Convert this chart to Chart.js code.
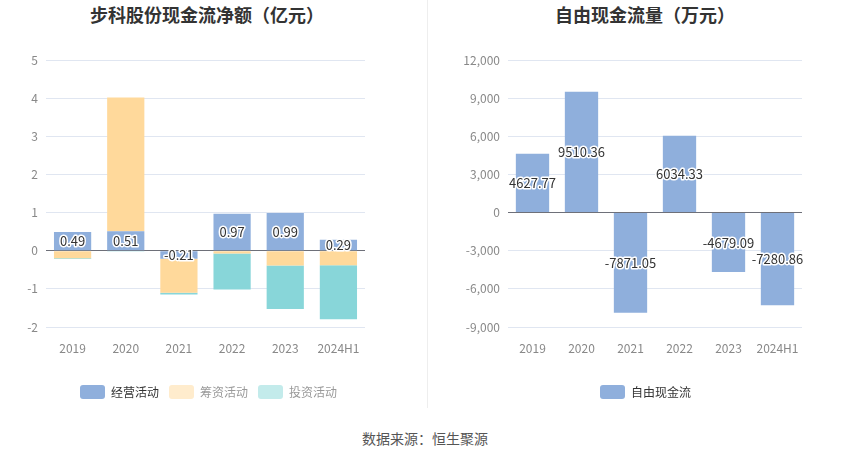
<!DOCTYPE html>
<html>
<head>
<meta charset="utf-8">
<script src="https://cdn.jsdelivr.net/npm/chart.js@4/dist/chart.umd.min.js"></script>
<style>
    body { margin: 0; width: 850px; height: 459px; background: #fff; position: relative; overflow: hidden; font-family: "Noto Sans CJK SC", sans-serif; }
    .box { position: absolute; top: 0; width: 425px; height: 410px; }
    .title { position: absolute; top: 1px; font-size: 18px; font-weight: bold; color: #333; white-space: nowrap; }
    #sep { position: absolute; left: 427px; top: 0; width: 1px; height: 408px; background: #eee; }
    #source { position: absolute; left: 0; width: 850px; top: 428px; text-align: center; font-size: 14px; color: #555; }
</style>
</head>
<body>
<div class="title" style="left: 90px;">步科股份现金流净额（亿元）</div>
<div class="title" style="left: 555px;">自由现金流量（万元）</div>
<div class="box" style="left: 0;"><canvas id="cashChart" width="425" height="410"></canvas></div>
<div id="sep"></div>
<div class="box" style="left: 425px;"><canvas id="fcfChart" width="425" height="410"></canvas></div>
<div id="source">数据来源：恒生聚源</div>

<script>
const years = ['2019', '2020', '2021', '2022', '2023', '2024H1'];

// 现金流净额（亿元）
const operating = [0.49, 0.51, -0.21, 0.97, 0.99, 0.29];
const financing = [-0.20, 3.51, -0.89, -0.07, -0.39, -0.38];
const investing = [-0.02, -0.02, -0.05, -0.95, -1.14, -1.42];

// 自由现金流（万元）
const freeCashFlow = [4627.77, 9510.36, -7871.05, 6034.33, -4679.09, -7280.86];

const leftTicks = { min: -2, max: 5, step: 1 };
const rightTicks = { min: -9000, max: 12000, step: 3000 };

Chart.defaults.font.family = '"Noto Sans CJK SC", sans-serif';
Chart.defaults.animation = false;

const blue = '#8fafdc';
const orange = '#ffd99b';
const teal = '#88d6d9';

// 柱子中间的数值标签
const barLabels = {
    id: 'barLabels',
    afterDatasetsDraw(chart, args, opts) {
        const ctx = chart.ctx;
        const meta = chart.getDatasetMeta(opts.dataset);
        const values = chart.data.datasets[opts.dataset].data;
        ctx.save();
        ctx.font = '13px "Noto Sans CJK SC", sans-serif';
        ctx.textAlign = 'center';
        ctx.textBaseline = 'middle';
        ctx.lineJoin = 'round';
        ctx.lineWidth = 3;
        ctx.strokeStyle = '#fff';
        ctx.fillStyle = '#333';
        meta.data.forEach((bar, i) => {
            const text = values[i].toFixed(2);
            const y = (bar.y + bar.base) / 2;
            ctx.strokeText(text, bar.x, y);
            ctx.fillText(text, bar.x, y);
        });
        ctx.restore();
    },
};

// 图例整体平移
const legendShift = {
    id: 'legendShift',
    afterLayout(chart, args, opts) {
        chart.legend.left += opts.dx;
        chart.legend.right += opts.dx;
    },
};

function makeScales(ticks, yWidth, stacked) {
    return {
        x: {
            stacked: stacked,
            grid: { display: false },
            border: { display: false },
            ticks: { color: '#888', font: { size: 12 }, padding: 6, maxRotation: 0, autoSkip: false },
            afterFit(scale) { scale.height = 48; },
        },
        y: {
            stacked: stacked,
            min: ticks.min,
            max: ticks.max,
            border: { display: false },
            grid: {
                drawTicks: false,
                color: c => (c.tick.value === 0 ? '#6e7079' : '#e0e6f1'),
            },
            ticks: { stepSize: ticks.step, color: '#888', font: { size: 12 }, padding: 8 },
            afterFit(scale) { scale.width = yWidth; },
        },
    };
}

function legendOptions(items) {
    return {
        position: 'bottom',
        labels: {
            boxWidth: 25,
            boxHeight: 14,
            padding: 10,
            font: { size: 12 },
            useBorderRadius: true,
            borderRadius: 3,
            generateLabels: () => items.map(item => ({
                text: item.text,
                fillStyle: item.color,
                strokeStyle: item.color,
                lineWidth: 0,
                fontColor: item.fontColor,
                borderRadius: 3,
            })),
        },
    };
}

new Chart(document.getElementById('cashChart'), {
    type: 'bar',
    data: {
        labels: years,
        datasets: [
            { label: '经营活动', data: operating, backgroundColor: blue },
            { label: '筹资活动', data: financing, backgroundColor: orange },
            { label: '投资活动', data: investing, backgroundColor: teal },
        ],
    },
    options: {
        responsive: false,
        layout: { padding: { top: 60, right: 60, bottom: 1, left: 0 } },
        datasets: { bar: { categoryPercentage: 1, barPercentage: 0.7 } },
        scales: makeScales(leftTicks, 46, true),
        plugins: {
            legend: legendOptions([
                { text: '经营活动', color: blue, fontColor: '#333' },
                { text: '筹资活动', color: '#ffeccd', fontColor: '#999' },
                { text: '投资活动', color: '#c3ebeb', fontColor: '#999' },
            ]),
            tooltip: { enabled: false },
            barLabels: { dataset: 0 },
            legendShift: { dx: 26 },
        },
    },
    plugins: [barLabels, legendShift],
});

new Chart(document.getElementById('fcfChart'), {
    type: 'bar',
    data: {
        labels: years,
        datasets: [
            { label: '自由现金流', data: freeCashFlow, backgroundColor: blue },
        ],
    },
    options: {
        responsive: false,
        layout: { padding: { top: 60, right: 48, bottom: 1, left: 0 } },
        datasets: { bar: { categoryPercentage: 1, barPercentage: 0.68 } },
        scales: makeScales(rightTicks, 83, false),
        plugins: {
            legend: legendOptions([
                { text: '自由现金流', color: blue, fontColor: '#333' },
            ]),
            tooltip: { enabled: false },
            barLabels: { dataset: 0 },
            legendShift: { dx: 32 },
        },
    },
    plugins: [barLabels, legendShift],
});
</script>
</body>
</html>
